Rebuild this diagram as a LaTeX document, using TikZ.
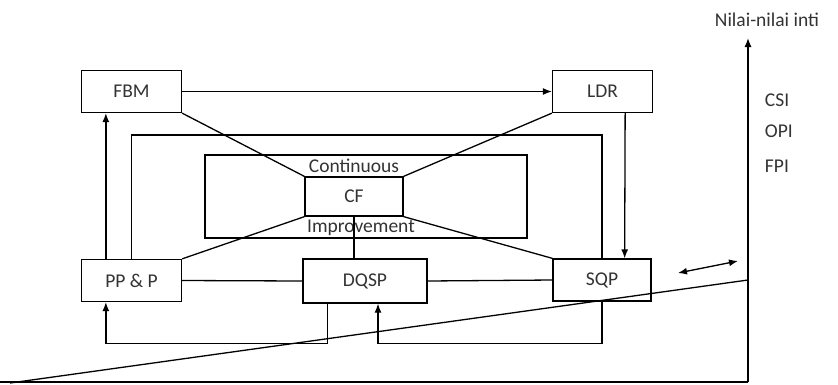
\documentclass[tikz,border=0pt]{standalone}
\usepackage{fontspec}
\setmainfont{Carlito}
\usepackage{tikz}
\usetikzlibrary{positioning, arrows.meta, calc}
\newcommand{\boxfont}{\fontsize{19.5}{22}\selectfont}

\begin{document}
\begin{tikzpicture}[x=1pt, y=-1pt, line width=1.3pt, >={Latex[length=9pt,width=7pt]},
    every node/.style={font=\boxfont, text=black!80},
    unit/.style={draw, minimum width=100pt, minimum height=42pt, inner sep=0pt}]
    \useasboundingbox (0,0) rectangle (838,384);
    % Units of the model
    \node[unit] (fbm) at (131.5,91.5) {FBM};
    \node[unit] (ldr) at (602.5,91.5) {LDR};
    \node[unit] (ppp) at (131.5,280.5) {PP \& P};
    \node[unit, minimum width=124pt, minimum height=44pt] (dqsp) at (365,281) {DQSP};
    \node[unit, minimum width=98pt] (sqp) at (602,280) {SQP};
    \node[unit, minimum width=98pt, minimum height=39pt] (cf) at (354,196.5) {CF};
    \draw (205,155) rectangle (527,238);
    \node[inner sep=0pt] (cont) at (354,166) {Continuous};
    \node[inner sep=0pt] (impr) at (361,228) {Improvement};
    % Links to CF
    \draw (fbm.south east) -- (cf.north west);
    \draw (ldr.south west) -- (cf.north east);
    \draw (ppp.north east) -- (cf.south west);
    \draw (sqp.north west) -- (cf.south east);
    \draw (cf.south) -- (cf.south |- dqsp.north);
    \draw (ppp.east) -- (dqsp.west);
    \draw (dqsp.east) -- (sqp.west);
    \draw (ppp.north) -- ++(0,-124) -| (sqp.north);
    % Arrows between units
    \draw[->] (fbm.east) -- (ldr.west);
    \draw[->] ($(ppp.north west)+(25,0)$) -- ($(fbm.south west)+(25,0)$);
    \draw[->] ($(ldr.south east)+(-28,0)$) -- ($(sqp.north east)+(-27,0)$);
    \draw[->] ($(dqsp.south west)+(25,0)$) -- ++(0,40) -| ($(ppp.south west)+(25,0)$);
    \draw[->] (sqp.south) -- ++(0,42) -| ($(dqsp.south)+(13,0)$);
    % Axis of core values
    \coordinate (origin) at (748,382);
    \coordinate (axistop) at (748,38);
    \coordinate (floor) at (0,382);
    \coordinate (slantlow) at (10,383);
    \coordinate (slanthigh) at (748,280);
    \coordinate (da) at (678,273);
    \coordinate (db) at (738,261);
    \draw[->] (origin) -- (axistop);
    \draw (floor) -- (origin);
    \draw (slantlow) -- (slanthigh);
    \draw[<->] (da) -- (db);
    \node (values) at (767,20) {Nilai-nilai inti};
    \node[right] (csi) at (761,100) {CSI};
    \node[right] (opi) at (761,131) {OPI};
    \node[right] (fpi) at (761,166) {FPI};
\end{tikzpicture}
\end{document}
